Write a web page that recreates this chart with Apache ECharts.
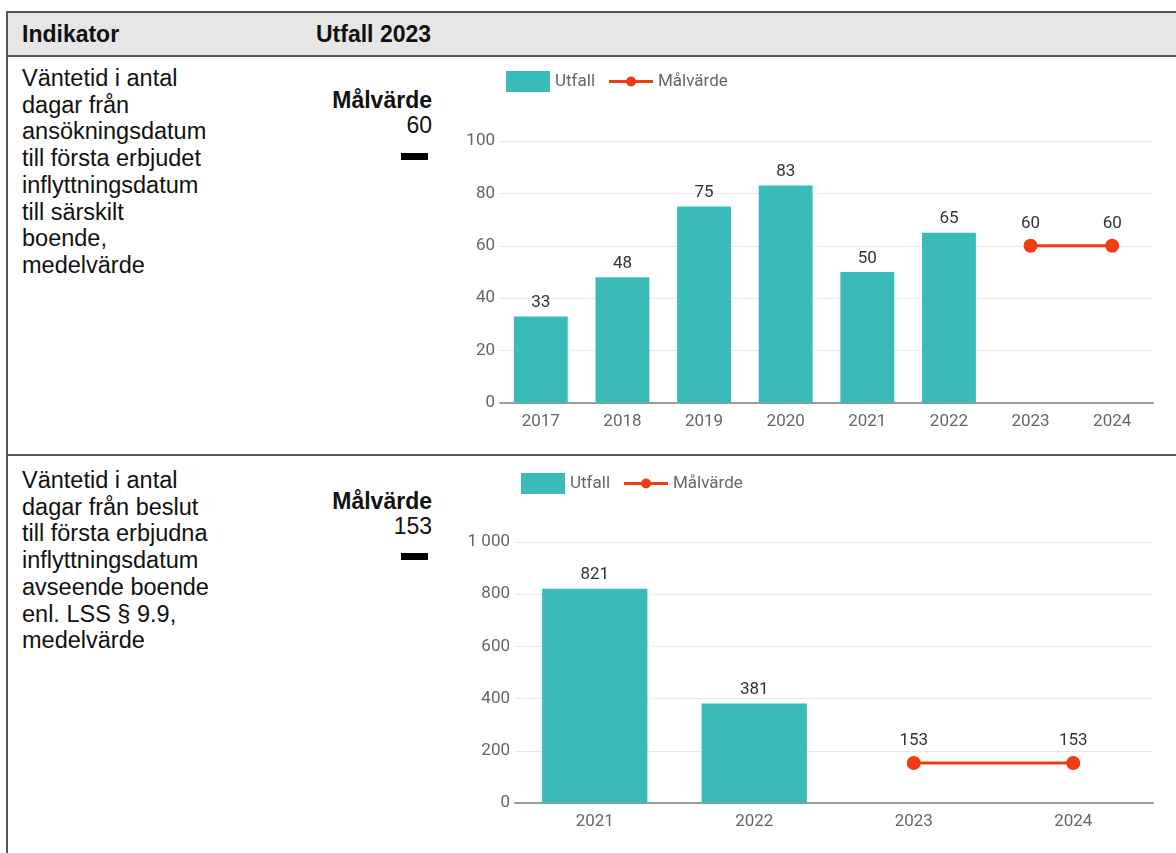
<!DOCTYPE html>
<html>
<head>
<meta charset="utf-8">
<script src="https://cdn.jsdelivr.net/npm/echarts@6/dist/echarts.min.js"></script>
<style>
    body {
        margin: 0;
        background: #fff;
        font-family: "Liberation Sans", Arial, sans-serif;
        color: #111;
    }
    .page {
        position: relative;
        width: 1176px;
        height: 853px;
        overflow: hidden;
    }
    .head {
        position: absolute;
        left: 7px;
        top: 11px;
        width: 1200px;
        height: 42px;
        background: #e6e6e6;
        border-top: 2px solid #555;
        border-bottom: 2px solid #555;
    }
    .vline {
        position: absolute;
        left: 6px;
        top: 11px;
        width: 2px;
        height: 900px;
        background: #555;
    }
    .hline {
        position: absolute;
        left: 7px;
        width: 1200px;
        height: 2px;
        background: #555;
    }
    .htext {
        position: absolute;
        top: 13px;
        line-height: 42px;
        font-size: 23px;
        font-weight: bold;
    }
    .ind {
        position: absolute;
        left: 22px;
        font-size: 23.5px;
        line-height: 26.7px;
    }
    .mal {
        position: absolute;
        right: 744px;
        text-align: right;
        font-size: 23px;
        line-height: 25px;
    }
    .mal b { display: block; }
    .dash {
        position: absolute;
        left: 401px;
        width: 27px;
        height: 7px;
        background: #000;
    }
    .chart {
        position: absolute;
        left: 440px;
        width: 736px;
        height: 396px;
    }
</style>
</head>
<body>
<div class="page">
    <div class="head"></div>
    <div class="vline"></div>
    <div class="hline" style="top:454px"></div>
    <div class="htext" style="left:22px">Indikator</div>
    <div class="htext" style="left:316px">Utfall 2023</div>

    <div class="ind" style="top:65px">Väntetid i antal<br>dagar från<br>ansökningsdatum<br>till första erbjudet<br>inflyttningsdatum<br>till särskilt<br>boende,<br>medelvärde</div>
    <div class="mal" style="top:88px"><b>Målvärde</b>60</div>
    <div class="dash" style="top:153px"></div>
    <div id="chart1" class="chart" style="top:57px"></div>

    <div class="ind" style="top:467px">Väntetid i antal<br>dagar från beslut<br>till första erbjudna<br>inflyttningsdatum<br>avseende boende<br>enl. LSS § 9.9,<br>medelvärde</div>
    <div class="mal" style="top:489px"><b>Målvärde</b>153</div>
    <div class="dash" style="top:553px"></div>
    <div id="chart2" class="chart" style="top:457px"></div>
</div>

<script>
// rad 1 - särskilt boende
var years1 = ['2017', '2018', '2019', '2020', '2021', '2022', '2023', '2024']
var utfall1 = [33, 48, 75, 83, 50, 65, null, null]
var malvarde1 = [null, null, null, null, null, null, 60, 60]
var yTicks1 = { max: 100, interval: 20 }

// rad 2 - LSS § 9.9
var years2 = ['2021', '2022', '2023', '2024']
var utfall2 = [821, 381, null, null]
var malvarde2 = [null, null, 153, 153]
var yTicks2 = { max: 1000, interval: 200 }

var teal = '#3abbb9'
var red = '#f03c12'
var font = 'Roboto, "Noto Sans", sans-serif'
// linje med liten prick, som i originalets legend
var lineIcon = 'path://M0,8.5L44,8.5L44,11.5L0,11.5Z M17,10A5,5,0,1,1,27,10A5,5,0,1,1,17,10Z'

function buildOption(cats, bars, line, ticks, grid, legendLeft, legendTop) {
    return {
        animation: false,
        textStyle: { fontFamily: font },
        legend: {
            left: legendLeft,
            top: legendTop,
            itemWidth: 44,
            itemHeight: 21,
            itemGap: 14,
            textStyle: { color: '#666', fontSize: 17, fontFamily: font },
            data: [
                { name: 'Utfall', icon: 'rect' },
                { name: 'Målvärde', icon: lineIcon }
            ]
        },
        grid: grid,
        xAxis: {
            type: 'category',
            data: cats,
            axisTick: { show: false },
            axisLine: { lineStyle: { color: '#9a9a9a', width: 2 } },
            axisLabel: { color: '#666', fontSize: 17, margin: 10, fontFamily: font }
        },
        yAxis: {
            type: 'value',
            min: 0,
            max: ticks.max,
            interval: ticks.interval,
            axisLine: { show: false },
            axisTick: { show: false },
            axisLabel: {
                color: '#666',
                fontSize: 17,
                margin: 5,
                fontFamily: font,
                formatter: function(v) {
                    return String(v).replace(/\B(?=(\d{3})+(?!\d))/g, ' ')
                }
            },
            splitLine: { lineStyle: { color: '#e8e8e8', width: 1 } }
        },
        series: [
            {
                name: 'Utfall',
                type: 'bar',
                data: bars,
                barCategoryGap: '34%',
                itemStyle: { color: teal },
                label: { show: true, position: 'top', color: '#333', fontSize: 17, fontFamily: font }
            },
            {
                name: 'Målvärde',
                type: 'line',
                data: line,
                symbol: 'circle',
                symbolSize: 14,
                lineStyle: { color: red, width: 3 },
                itemStyle: { color: red },
                label: { show: true, position: 'top', color: '#333', fontSize: 17, distance: 7, fontFamily: font }
            }
        ]
    }
}

var chart1 = echarts.init(document.getElementById('chart1'))
chart1.setOption(buildOption(years1, utfall1, malvarde1, yTicks1,
    { left: 60, right: 23, top: 84, bottom: 50 }, 61, 9))

var chart2 = echarts.init(document.getElementById('chart2'))
chart2.setOption(buildOption(years2, utfall2, malvarde2, yTicks2,
    { left: 75, right: 23, top: 85, bottom: 50 }, 76, 11))

window.addEventListener('resize', function() {
    chart1.resize()
    chart2.resize()
})
</script>
</body>
</html>
